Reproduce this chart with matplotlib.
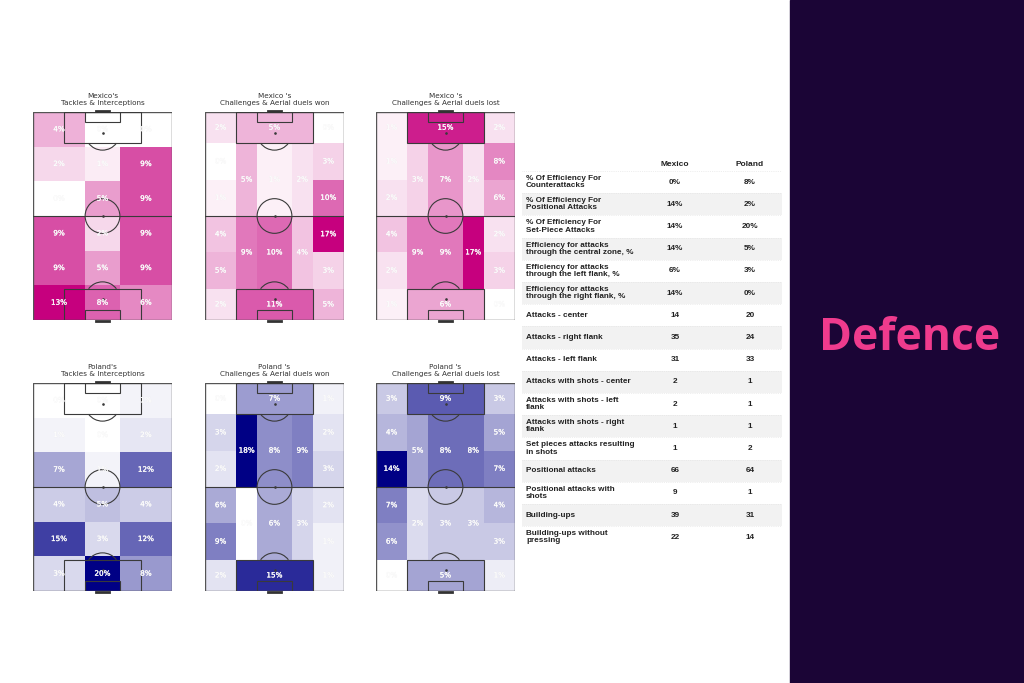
import numpy as np
import matplotlib
matplotlib.use('Agg')
import matplotlib.pyplot as plt
from matplotlib.patches import Rectangle, Circle, Arc
from matplotlib.colors import LinearSegmentedColormap, Normalize
import matplotlib.patheffects as pe

# ---- data (pitch values in %, rows listed top -> bottom) ----
mex_tackles = [[4, 0, 0], [2, 1, 9], [0, 5, 9], [9, 2, 9], [9, 5, 9], [13, 8, 6]]
pol_tackles = [[0, 0, 1], [1, 0, 2], [7, 1, 12], [4, 5, 4], [15, 3, 12], [3, 20, 8]]

# positional zones: wings have 6 rows, half-spaces/centre 2 rows, boxes top/bottom
mex_won_left = [2, 0, 1, 4, 5, 2]
mex_won_right = [0, 3, 10, 17, 3, 5]
mex_won_lhs = [5, 9]
mex_won_center = [1, 10]
mex_won_rhs = [2, 4]
mex_won_box = [5, 11]

mex_lost_left = [1, 1, 2, 4, 2, 1]
mex_lost_right = [2, 8, 6, 2, 3, 0]
mex_lost_lhs = [3, 9]
mex_lost_center = [7, 9]
mex_lost_rhs = [2, 17]
mex_lost_box = [15, 6]

pol_won_left = [0, 3, 2, 6, 9, 2]
pol_won_right = [1, 2, 3, 2, 1, 1]
pol_won_lhs = [18, 0]
pol_won_center = [8, 6]
pol_won_rhs = [9, 3]
pol_won_box = [7, 15]

pol_lost_left = [3, 4, 14, 7, 6, 0]
pol_lost_right = [3, 5, 7, 4, 3, 1]
pol_lost_lhs = [5, 2]
pol_lost_center = [8, 3]
pol_lost_rhs = [8, 3]
pol_lost_box = [9, 5]

table_labels = ["% Of Efficiency For\nCounterattacks", "% Of Efficiency For\nPositional Attacks",
                "% Of Efficiency For\nSet-Piece Attacks", "Efficiency for attacks\nthrough the central zone, %",
                "Efficiency for attacks\nthrough the left flank, %", "Efficiency for attacks\nthrough the right flank, %",
                "Attacks - center", "Attacks - right flank", "Attacks - left flank",
                "Attacks with shots - center", "Attacks with shots - left\nflank", "Attacks with shots - right\nflank",
                "Set pieces attacks resulting\nin shots", "Positional attacks", "Positional attacks with\nshots",
                "Building-ups", "Building-ups without\npressing"]
mexico_vals = ["0%", "14%", "14%", "14%", "6%", "14%", "14", "35", "31", "2", "2", "1", "1", "66", "9", "39", "22"]
poland_vals = ["8%", "2%", "20%", "5%", "3%", "0%", "20", "24", "33", "1", "1", "1", "2", "64", "1", "31", "14"]

mex_cmap = LinearSegmentedColormap.from_list("mex", ["#ffffff", "#c6007e"])
pol_cmap = LinearSegmentedColormap.from_list("pol", ["#ffffff", "#000085"])

LC = '#3a3a3a'


def draw_pitch(ax):
    lw = 0.8
    ax.add_patch(Rectangle((0, 0), 80, 120, fill=False, ec='#555555', lw=1.0, zorder=3))
    ax.plot([0, 80], [60, 60], color=LC, lw=lw, zorder=3)
    ax.add_patch(Circle((40, 60), 10, fill=False, ec=LC, lw=lw, zorder=3))
    ax.add_patch(Rectangle((18, 0), 44, 18, fill=False, ec=LC, lw=lw, zorder=3))
    ax.add_patch(Rectangle((18, 102), 44, 18, fill=False, ec=LC, lw=lw, zorder=3))
    ax.add_patch(Rectangle((30, 0), 20, 6, fill=False, ec=LC, lw=lw, zorder=3))
    ax.add_patch(Rectangle((30, 114), 20, 6, fill=False, ec=LC, lw=lw, zorder=3))
    ax.add_patch(Arc((40, 12), 20, 20, theta1=36.9, theta2=143.1, ec=LC, lw=lw, zorder=3))
    ax.add_patch(Arc((40, 108), 20, 20, theta1=216.9, theta2=323.1, ec=LC, lw=lw, zorder=3))
    ax.scatter([40, 40, 40], [12, 60, 108], s=0.8, color=LC, zorder=3)
    ax.plot([36, 44], [120.8, 120.8], color='#333333', lw=2, zorder=3, clip_on=False)
    ax.plot([36, 44], [-0.8, -0.8], color='#333333', lw=2, zorder=3, clip_on=False)
    ax.set_xlim(0, 80)
    ax.set_ylim(0, 120)
    ax.axis('off')


def label(ax, x, y, v):
    t = ax.text(x, y, f"{v}%", color='white', fontsize=5.2, ha='center', va='center', zorder=4)
    t.set_path_effects([pe.withStroke(linewidth=0.2, foreground='#ebebeb')])


def draw_grid(ax, grid, cmap):
    grid = np.array(grid)
    xe = [0, 30, 50, 80]
    ye = [120, 100, 80, 60, 40, 20, 0]
    norm = Normalize(0, grid.max())
    ax.pcolormesh(xe, ye, grid, cmap=cmap, norm=norm, zorder=1)
    for i in range(grid.shape[0]):
        for j in range(grid.shape[1]):
            label(ax, (xe[j] + xe[j + 1]) / 2, (ye[i] + ye[i + 1]) / 2, grid[i, j])
    draw_pitch(ax)


def draw_positional(ax, left, lhs, center, rhs, right, box, cmap):
    vmax = max(max(left), max(lhs), max(center), max(rhs), max(right), max(box))
    norm = Normalize(0, vmax)
    wing_y = [120, 102, 81, 60, 39, 18, 0]
    mid_y = [102, 60, 18]
    zones = [([0, 18], wing_y, left), ([62, 80], wing_y, right),
             ([18, 30], mid_y, lhs), ([30, 50], mid_y, center), ([50, 62], mid_y, rhs),
             ([18, 62], [120, 102], box[:1]), ([18, 62], [18, 0], box[1:])]
    for xe, ye, vals in zones:
        c = np.array(vals).reshape(-1, 1)
        ax.pcolormesh(xe, ye, c, cmap=cmap, norm=norm, zorder=1)
        for k, v in enumerate(vals):
            label(ax, (xe[0] + xe[1]) / 2, (ye[k] + ye[k + 1]) / 2, v)
    draw_pitch(ax)


fig = plt.figure(figsize=(10.24, 6.83), dpi=100)
W, H = 1024, 683

lefts = [33, 205, 376]
pw, ph = 139, 208
tops = [112, 383]

axes = []
for top in tops:
    row = []
    for lft in lefts:
        row.append(fig.add_axes([lft / W, (H - top - ph) / H, pw / W, ph / H]))
    axes.append(row)

draw_grid(axes[0][0], mex_tackles, mex_cmap)
draw_positional(axes[0][1], mex_won_left, mex_won_lhs, mex_won_center, mex_won_rhs, mex_won_right, mex_won_box, mex_cmap)
draw_positional(axes[0][2], mex_lost_left, mex_lost_lhs, mex_lost_center, mex_lost_rhs, mex_lost_right, mex_lost_box, mex_cmap)
draw_grid(axes[1][0], pol_tackles, pol_cmap)
draw_positional(axes[1][1], pol_won_left, pol_won_lhs, pol_won_center, pol_won_rhs, pol_won_right, pol_won_box, pol_cmap)
draw_positional(axes[1][2], pol_lost_left, pol_lost_lhs, pol_lost_center, pol_lost_rhs, pol_lost_right, pol_lost_box, pol_cmap)

titles = [["Mexico's\nTackles & Interceptions", "Mexico 's\nChallenges & Aerial duels won",
           "Mexico 's\nChallenges & Aerial duels lost"],
          ["Poland's\nTackles & Interceptions", "Poland 's\nChallenges & Aerial duels won",
           "Poland 's\nChallenges & Aerial duels lost"]]
for r in range(2):
    for c in range(3):
        axes[r][c].set_title(titles[r][c], fontsize=5.2, color='#333333', pad=5, linespacing=1.3)

# ---- table ----
n = len(table_labels)
tax = fig.add_axes([522 / W, (H - 548.4) / H, 260 / W, (548.4 - 155.5) / H])
tax.set_xlim(0, 260)
tax.set_ylim(n, -0.7)
tax.axis('off')
tf = 'Liberation Sans'
tax.text(153, -0.3, "Mexico", ha='center', va='center', fontsize=6, fontweight='bold', family=tf, color='#222222')
tax.text(228, -0.3, "Poland", ha='center', va='center', fontsize=6, fontweight='bold', family=tf, color='#222222')
for i in range(n):
    if i % 2 == 1:
        tax.add_patch(Rectangle((0, i), 260, 1, color='#f2f2f2', lw=0, zorder=0))
    tax.plot([0, 260], [i, i], color='#e0e0e0', lw=0.5, ls=':', zorder=1)
    tax.text(4, i + 0.5, table_labels[i], ha='left', va='center', fontsize=5.9, fontweight='bold',
             family=tf, color='#222222', linespacing=1.05)
    tax.text(153, i + 0.5, mexico_vals[i], ha='center', va='center', fontsize=5.9, fontweight='bold',
             family=tf, color='#222222')
    tax.text(228, i + 0.5, poland_vals[i], ha='center', va='center', fontsize=5.9, fontweight='bold',
             family=tf, color='#222222')
tax.plot([0, 260], [n, n], color='#e0e0e0', lw=0.5, ls=':', zorder=1)

# ---- right panel ----
fig.patches.append(Rectangle((790 / W, 0), 1 - 790 / W, 1, transform=fig.transFigure,
                             color='#1b0536', zorder=0))
fig.text(910 / W, 1 - 338 / H, "Defence", color='#ef3b8d', fontsize=32, fontweight='bold',
         family='Open Sans', ha='center', va='center')

fig.savefig('out.png', dpi=100)
